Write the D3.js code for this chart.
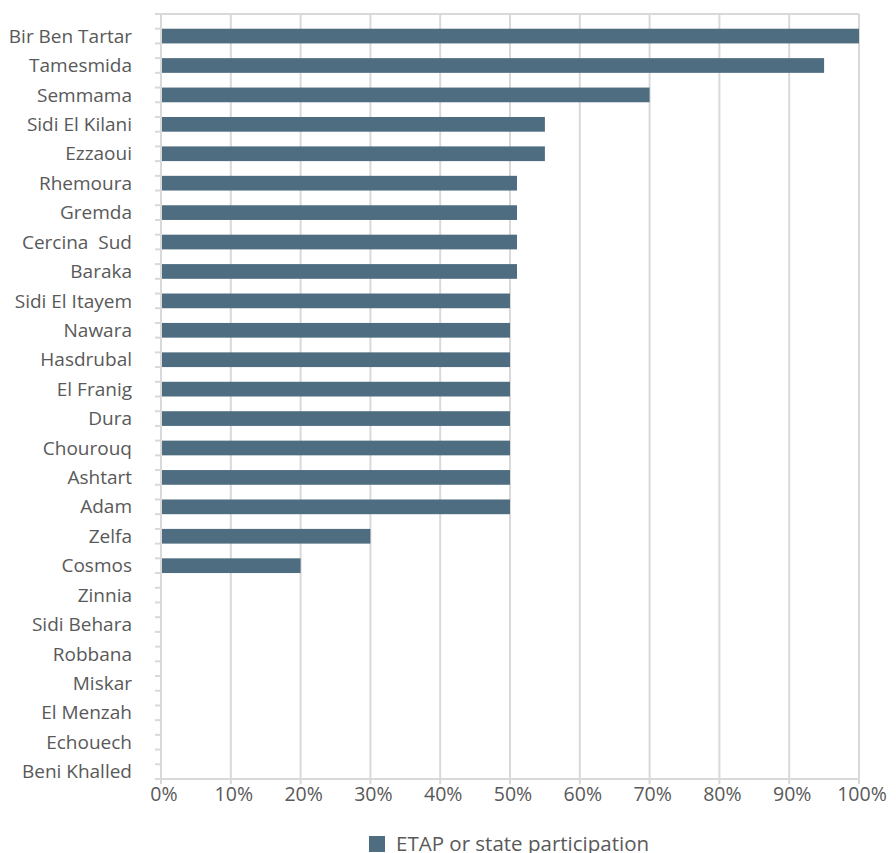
<!DOCTYPE html>
<html><head><meta charset="utf-8">
<script src="https://cdn.jsdelivr.net/npm/d3@7"></script>
<style>body{margin:0;background:#fff}svg text{font-family:"Open Sans",Lato,sans-serif;fill:#595959}</style>
</head><body><svg id="c" width="896" height="853"></svg>
<script>
const categories = ["Bir Ben Tartar","Tamesmida","Semmama","Sidi El Kilani","Ezzaoui","Rhemoura","Gremda","Cercina  Sud","Baraka","Sidi El Itayem","Nawara","Hasdrubal","El Franig","Dura","Chourouq","Ashtart","Adam","Zelfa","Cosmos","Zinnia","Sidi Behara","Robbana","Miskar","El Menzah","Echouech","Beni Khalled"];
const values = [100,95,70,55,55,51,51,51,51,50,50,50,50,50,50,50,50,30,20,0,0,0,0,0,0,0];
const xTicks = [0,10,20,30,40,50,60,70,80,90,100];
const seriesName = "ETAP or state participation";
const color = "#4f6d81", grid = "#d9d9d9";

const svg = d3.select("#c");
const m = {l:161, r:859, t:14, b:779};
const x = d3.scaleLinear().domain([0,100]).range([m.l, m.r]);
const y = d3.scaleBand().domain(categories).range([m.t, m.b]).padding(0);
const half = y.bandwidth()/2;

// gridlines
svg.append("g").selectAll("line").data(xTicks).join("line")
  .attr("x1", d=>x(d)).attr("x2", d=>x(d)).attr("y1", m.t).attr("y2", m.b)
  .attr("stroke", grid).attr("stroke-width", 2);
svg.append("line").attr("x1", m.l).attr("x2", m.r).attr("y1", m.t).attr("y2", m.t).attr("stroke", grid).attr("stroke-width", 2);

// bars (lower half of each category slot)
svg.append("g").selectAll("rect").data(categories).join("rect")
  .attr("x", x(0)).attr("y", d=>y(d)+half).attr("height", half)
  .attr("width", (d,i)=>x(values[i]) - x(0)).attr("fill", color);

// left axis ticks at every half slot
const bounds = d3.range(categories.length*2+1).map(i=> m.t + i*half);
svg.append("g").selectAll("line").data(bounds).join("line")
  .attr("x1", m.l-6).attr("x2", m.l).attr("y1", d=>d).attr("y2", d=>d)
  .attr("stroke", grid).attr("stroke-width", 2);
svg.append("line").attr("x1", m.l).attr("x2", m.l).attr("y1", m.t).attr("y2", m.b).attr("stroke", grid).attr("stroke-width", 2);

// category labels
svg.append("g").selectAll("text").data(categories).join("text")
  .attr("x", 132).attr("y", d=>y(d)+half*1.5).attr("dy","0.35em")
  .attr("text-anchor","end").attr("font-size",19).style("white-space","pre")
  .text(d=>d);

// bottom axis
svg.append("line").attr("x1", m.l).attr("x2", m.r).attr("y1", m.b).attr("y2", m.b).attr("stroke", grid).attr("stroke-width", 2);
svg.append("g").selectAll("line").data(xTicks).join("line")
  .attr("x1", d=>x(d)).attr("x2", d=>x(d)).attr("y1", m.b).attr("y2", m.b+5)
  .attr("stroke", grid).attr("stroke-width", 2);
svg.append("g").selectAll("text").data(xTicks).join("text")
  .attr("x", d=>x(d)+3).attr("y", m.b+22).attr("text-anchor","middle").attr("font-size",19.5)
  .text(d=>d+"%");

// legend
svg.append("rect").attr("x",369).attr("y",836).attr("width",16).attr("height",16).attr("fill",color);
svg.append("text").attr("x",396).attr("y",851).attr("font-size",20.5).text(seriesName);
</script></body></html>
